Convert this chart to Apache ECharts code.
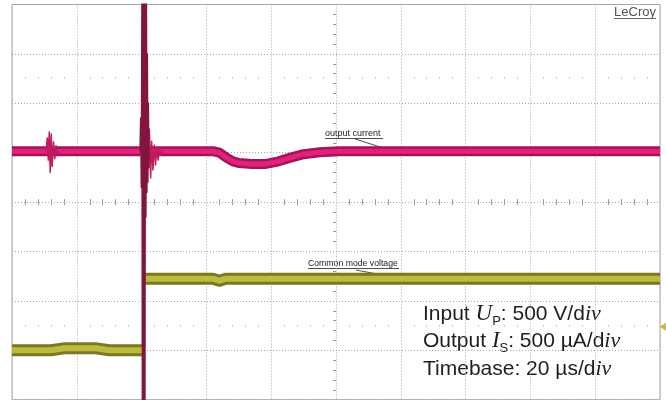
<!DOCTYPE html>
<html><head><meta charset="utf-8">
<script src="https://cdn.jsdelivr.net/npm/echarts@6/dist/echarts.min.js"></script>
<style>html,body{margin:0;padding:0;background:#fff}#c{width:666px;height:400px}</style>
</head><body><div id="c"></div>
<script>
// time in µs (20 µs/div), vertical in divisions (8 div screen)
const timeRange = [0, 200];
const divRange = [-4, 4];
// output current trace: baseline + slow dip
const currentBase = [[0,1.03],[62,1.03],[64,1.0],[66,0.91],[68,0.83],[70,0.79],[74,0.77],[78,0.77],[82,0.82],[86,0.9],[90,0.97],[95,1.01],[101,1.03],[200,1.03]];
// output current: small burst near 12 µs
const currentGlitch = [[10.5,1.03],[10.9,1.3],[11.2,0.85],[11.5,1.42],[11.8,0.6],[12.1,1.38],[12.4,0.72],[12.8,1.22],[13.2,0.88],[13.6,1.14],[14.1,0.96],[14.6,1.03]];
// output current: ringing after the step
const currentRing = [[42.2,1.03],[42.4,1.48],[42.8,0.49],[43.1,1.23],[43.5,0.65],[43.9,1.15],[44.3,0.75],[44.7,1.1],[45.1,0.85],[45.5,1.1],[45.9,0.95],[46.5,1.03]];
// output current: main spike at the step
const currentSpike = [[39.6,1.03],[39.8,1.7],[40.0,0.3],[40.2,4.3],[40.35,-4.3],[40.5,4.3],[40.65,-0.8],[40.8,4.3],[40.95,-4.3],[41.1,4.3],[41.25,-0.3],[41.4,4.3],[41.55,0.2],[41.7,3.0],[41.85,0.4],[42.0,2.0],[42.2,0.7],[42.3,1.03]];
// common mode voltage trace
const voltageBefore = [[0,-3.0],[12,-3.0],[16,-2.96],[26,-2.96],[30,-3.0],[40.4,-3.0]];
const voltageAfter = [[40.6,-1.55],[62,-1.55],[64,-1.59],[66,-1.55],[200,-1.55]];

const chart = echarts.init(document.getElementById('c'), null, {renderer:'canvas'});
const G = {left:12, top:4.5, width:648, height:395.2};
const hide = {axisLabel:{show:false}, axisTick:{show:false}, splitLine:{show:false}};
function tickAxis(pos, offset, inside, len){
  return Object.assign({type:'value', min:timeRange[0], max:timeRange[1], interval:20, position:pos, offset:offset,
    axisLine:{show:false, onZero:false}}, hide, {axisTick:{show:false, inside:inside},
    minorTick:{show:true, splitNumber:5, length:len, lineStyle:{color:'#9a9a9a', width:1}}});
}
function tickYAxis(pos, offset, inside, len){
  return Object.assign({type:'value', min:divRange[0], max:divRange[1], interval:1, position:pos, offset:offset,
    axisLine:{show:false, onZero:false}}, hide, {axisTick:{show:false, inside:inside},
    minorTick:{show:true, splitNumber:5, length:len, lineStyle:{color:'#9a9a9a', width:1}}});
}
const thick = (data, color, w, z) => ({type:'line', data:data, symbol:'none', z:z, animation:false,
  lineStyle:{color:color, width:w, cap:'butt', join:'round'}, xAxisIndex:0, yAxisIndex:0});
const sep = (...arrs) => arrs.reduce((a,b,i)=> i? a.concat([['-','-']], b) : b, []);

chart.setOption({
  animation:false,
  grid:{left:G.left, top:G.top, width:G.width, height:G.height, show:true, borderColor:'#a9a9a9', borderWidth:1, backgroundColor:'#fff'},
  xAxis:[
    Object.assign({type:'value', min:timeRange[0], max:timeRange[1], interval:20, axisLine:{show:false, onZero:false}}, hide,
      {splitLine:{show:true, lineStyle:{color:'#a8a8a8', type:[1,2], width:1}}}),
    tickAxis('top', -G.height/2, false, 3),
    tickAxis('top', -G.height/2, true, 3),
    tickAxis('top', -G.height*0.1875, false, 1),
    tickAxis('bottom', -G.height*0.1875, false, 1)
  ],
  yAxis:[
    Object.assign({type:'value', min:divRange[0], max:divRange[1], interval:1, axisLine:{show:false, onZero:false}}, hide,
      {splitLine:{show:true, lineStyle:{color:'#a8a8a8', type:[1,2], width:1}}}),
    tickYAxis('left', -G.width/2, false, 3)
  ],
  series:[
    thick(sep(voltageBefore, voltageAfter), '#7a7824', 12, 2),
    thick(sep(voltageBefore, voltageAfter), '#bcbc3c', 6, 3),
    thick(currentBase, '#a8125a', 10, 4),
    thick(currentBase, '#e0237a', 5, 5),
    thick(sep(currentGlitch, currentRing), '#c2185f', 1.5, 6),
    thick(currentSpike, '#82143f', 2, 7)
  ],
  graphic:[
    {type:'text', right:10, top:6, style:{text:'LeCroy', font:'13px "Liberation Sans", Arial, sans-serif', fill:'#555'}},
    {type:'line', shape:{x1:614, y1:18.5, x2:656, y2:18.5}, style:{stroke:'#666', lineWidth:1}},
    {type:'text', left:325, top:129.5, style:{text:'output current', font:'9px "Liberation Sans", Arial, sans-serif', fill:'#222'}},
    {type:'line', shape:{x1:325, y1:138.5, x2:383, y2:138.5}, style:{stroke:'#222', lineWidth:0.8}},
    {type:'line', shape:{x1:355, y1:139, x2:393, y2:151}, style:{stroke:'#222', lineWidth:0.8}},
    {type:'text', left:308, top:259.5, style:{text:'Common mode voltage', font:'8.7px "Liberation Sans", Arial, sans-serif', fill:'#222'}},
    {type:'line', shape:{x1:308, y1:268.5, x2:399, y2:268.5}, style:{stroke:'#222', lineWidth:0.8}},
    {type:'line', shape:{x1:356, y1:270, x2:418, y2:282}, style:{stroke:'#222', lineWidth:0.8}},
    {type:'polygon', shape:{points:[[659.5,326.7],[666,322.7],[666,330.7]]}, style:{fill:'#c9b93a'}},
    {type:'text', left:423, top:300, style:{
      text:'Input {u|U}{s|P}: 500 V/d{i|iv}\nOutput {u|I}{s|S}: 500 µA/d{i|iv}\nTimebase: 20 µs/d{i|iv}',
      font:'21px "Liberation Sans", Arial, sans-serif', fill:'#1e1e1e', lineHeight:27.5,
      rich:{
        u:{fontFamily:'"Liberation Serif", serif', fontStyle:'italic', fontSize:23, lineHeight:27.5, fill:'#1e1e1e'},
        s:{fontFamily:'"Liberation Sans", Arial, sans-serif', fontSize:13, lineHeight:12, verticalAlign:'bottom', fill:'#1e1e1e'},
        i:{fontFamily:'"Liberation Serif", serif', fontStyle:'italic', fontSize:22, lineHeight:27.5, fill:'#1e1e1e'}
      }}}
  ]
});
</script></body></html>
